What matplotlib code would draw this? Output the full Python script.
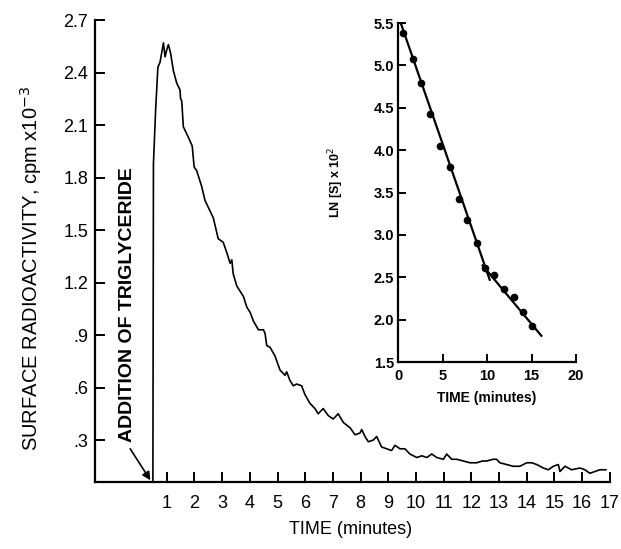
###############################################################################
# surface radioactivity after addition of triglyceride, with inset of
# LN[S] against time
###############################################################################

import matplotlib
matplotlib.use("Agg")
import matplotlib.pyplot as plt

plt.rcParams['font.family'] = ['Liberation Sans', 'DejaVu Sans']

# main trace (minutes, cpm x 10^-3)
time_min = [0.50, 0.52, 0.60, 0.68, 0.76, 0.88, 0.94, 1.00, 1.06, 1.14,
            1.24, 1.36, 1.48, 1.50, 1.54, 1.60, 1.78, 1.92, 1.99, 2.08,
            2.26, 2.38, 2.56, 2.68, 2.74, 2.86, 3.04, 3.17, 3.29, 3.35,
            3.40, 3.53, 3.65, 3.77, 3.89, 4.01, 4.13, 4.31, 4.49, 4.55,
            4.61, 4.73, 4.91, 5.09, 5.27, 5.33, 5.45, 5.57, 5.69, 5.87,
            5.99, 6.17, 6.35, 6.47, 6.65, 6.83, 7.01, 7.19, 7.38, 7.62,
            7.80, 7.98, 8.04, 8.16, 8.28, 8.46, 8.58, 8.76, 8.94, 9.12,
            9.24, 9.42, 9.60, 9.78, 10.03, 10.21, 10.39, 10.57, 10.75, 10.99,
            11.11, 11.29, 11.47, 11.71, 11.95, 12.19, 12.40, 12.55, 12.79, 12.91,
            13.03, 13.27, 13.51, 13.75, 14.00, 14.18, 14.36, 14.60, 14.78, 14.96,
            15.14, 15.20, 15.38, 15.62, 15.92, 16.10, 16.28, 16.46, 16.64, 16.86]
radioactivity = [0.06, 1.88, 2.19, 2.43, 2.46, 2.57, 2.49, 2.53, 2.56, 2.51,
                 2.41, 2.34, 2.30, 2.25, 2.24, 2.09, 2.03, 1.98, 1.86, 1.84,
                 1.75, 1.67, 1.61, 1.57, 1.53, 1.45, 1.43, 1.37, 1.31, 1.33,
                 1.25, 1.18, 1.15, 1.12, 1.06, 1.03, 0.98, 0.93, 0.93, 0.91,
                 0.84, 0.83, 0.78, 0.70, 0.67, 0.69, 0.64, 0.61, 0.62, 0.61,
                 0.56, 0.51, 0.48, 0.45, 0.48, 0.44, 0.42, 0.45, 0.40, 0.37,
                 0.33, 0.34, 0.36, 0.32, 0.29, 0.30, 0.32, 0.26, 0.25, 0.24,
                 0.27, 0.25, 0.25, 0.22, 0.20, 0.21, 0.20, 0.22, 0.20, 0.19,
                 0.22, 0.19, 0.19, 0.18, 0.17, 0.17, 0.18, 0.18, 0.19, 0.19,
                 0.17, 0.16, 0.15, 0.15, 0.17, 0.17, 0.16, 0.14, 0.13, 0.15,
                 0.16, 0.12, 0.15, 0.13, 0.14, 0.13, 0.11, 0.12, 0.13, 0.13]

main_xticks = list(range(1, 18))
main_yticks = [0.3, 0.6, 0.9, 1.2, 1.5, 1.8, 2.1, 2.4, 2.7]
main_yticklabels = ['.3', '.6', '.9', '1.2', '1.5', '1.8', '2.1', '2.4', '2.7']

# inset: LN[S] x 10^2 points and the two fitted lines
inset_time = [0.6, 1.7, 2.6, 3.6, 4.75, 5.8, 6.8, 7.8, 8.9, 9.8,
              10.8, 11.9, 13.0, 14.0, 15.1]
inset_ln_s = [5.38, 5.07, 4.79, 4.43, 4.05, 3.80, 3.42, 3.17, 2.91, 2.61,
              2.53, 2.36, 2.27, 2.09, 1.92]
fast_fit_t = [0.3, 10.3]
fast_fit_v = [5.5, 2.47]
slow_fit_t = [9.5, 16.1]
slow_fit_v = [2.64, 1.81]

inset_xticks = [0, 5, 10, 15, 20]
inset_yticks = [1.5, 2.0, 2.5, 3.0, 3.5, 4.0, 4.5, 5.0, 5.5]

fig = plt.figure(figsize=(6.21, 5.49), dpi=100)

###############################################################################
# main plot
ax = fig.add_axes([0.153, 0.122, 0.829, 0.8415])
ax.plot(time_min, radioactivity, color='black', lw=1.2)
ax.set_xlim(-1.59, 17.0)
ax.set_ylim(0.06, 2.7)
for side in ['top', 'right']:
    ax.spines[side].set_visible(False)
for side in ['left', 'bottom']:
    ax.spines[side].set_linewidth(1.6)
ax.set_xticks(main_xticks)
ax.set_yticks(main_yticks)
ax.set_yticklabels(main_yticklabels)
ax.tick_params(direction='in', length=7, width=1.4, labelsize=13)
ax.tick_params(axis='x', pad=9)
ax.tick_params(axis='y', pad=5)
ax.set_xlabel('TIME (minutes)', fontsize=13)
ax.xaxis.set_label_coords(0.497, -0.085)
ax.set_ylabel('SURFACE RADIOACTIVITY, cpm x10$^{-3}$', fontsize=14.5)
ax.yaxis.set_label_coords(-0.1, 0.463)

# arrow marking the addition of triglyceride
ax.text(-0.40, 0.29, 'ADDITION OF TRIGLYCERIDE', rotation=90, fontsize=14,
        fontweight='bold', ha='center', va='bottom')
ax.annotate('', xy=(0.41, 0.07), xytext=(-0.32, 0.25),
            arrowprops=dict(arrowstyle='-|>', color='black', lw=1.2,
                            mutation_scale=12, shrinkA=0, shrinkB=0))

###############################################################################
# inset
axi = fig.add_axes([0.641, 0.3406, 0.2866, 0.6175])
axi.plot(fast_fit_t, fast_fit_v, color='black', lw=1.6)
axi.plot(slow_fit_t, slow_fit_v, color='black', lw=1.6)
axi.plot(inset_time, inset_ln_s, 'o', color='black', ms=4.5)
axi.set_xlim(0, 20)
axi.set_ylim(1.5, 5.5)
for side in ['top', 'right']:
    axi.spines[side].set_visible(False)
for side in ['left', 'bottom']:
    axi.spines[side].set_linewidth(1.6)
axi.set_xticks(inset_xticks)
axi.set_yticks(inset_yticks)
axi.tick_params(direction='in', length=6, width=1.4, labelsize=10.5)
axi.tick_params(axis='x', pad=5)
axi.tick_params(axis='y', pad=3)
for lab in axi.get_xticklabels() + axi.get_yticklabels():
    lab.set_fontweight('bold')
axi.set_xlabel('TIME (minutes)', fontsize=10, fontweight='bold', labelpad=6)
axi.set_ylabel('LN [S] x 10$^{2}$', fontsize=9, fontweight='bold')
axi.yaxis.set_label_coords(-0.29, 0.53)

plt.savefig('out.png', dpi=100)
plt.close()
